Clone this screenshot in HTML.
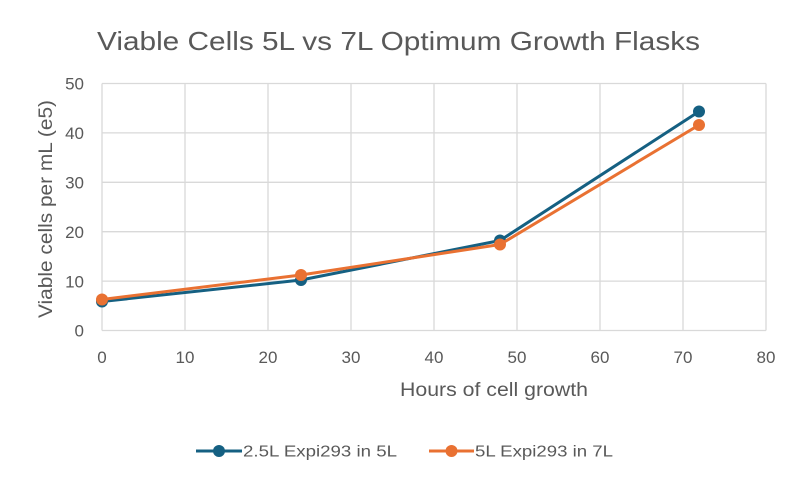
<!DOCTYPE html>
<html><head><meta charset="utf-8"><style>
html,body{margin:0;padding:0;background:#fff;}
svg{display:block;}
text{font-family:"Liberation Sans",sans-serif;fill:#595959;}
</style></head><body>
<svg width="800" height="480" viewBox="0 0 800 480" xmlns="http://www.w3.org/2000/svg">
<rect width="800" height="480" fill="#fff"/>
<text x="97" y="50" font-size="26" textLength="603" lengthAdjust="spacingAndGlyphs">Viable Cells 5L vs 7L Optimum Growth Flasks</text>
<g stroke="#d9d9d9" stroke-width="1.3" fill="none">
<line x1="102" y1="83.5" x2="766" y2="83.5"/>
<line x1="102" y1="132.9" x2="766" y2="132.9"/>
<line x1="102" y1="182.3" x2="766" y2="182.3"/>
<line x1="102" y1="231.7" x2="766" y2="231.7"/>
<line x1="102" y1="281.1" x2="766" y2="281.1"/>
<line x1="102" y1="330.5" x2="766" y2="330.5"/>
<line x1="102" y1="83.5" x2="102" y2="330.5"/>
<line x1="185" y1="83.5" x2="185" y2="330.5"/>
<line x1="268" y1="83.5" x2="268" y2="330.5"/>
<line x1="351" y1="83.5" x2="351" y2="330.5"/>
<line x1="434" y1="83.5" x2="434" y2="330.5"/>
<line x1="517" y1="83.5" x2="517" y2="330.5"/>
<line x1="600" y1="83.5" x2="600" y2="330.5"/>
<line x1="683" y1="83.5" x2="683" y2="330.5"/>
<line x1="766" y1="83.5" x2="766" y2="330.5"/>
</g>
<g font-size="17" text-anchor="end">
<text x="84" y="89.5">50</text>
<text x="84" y="139">40</text>
<text x="84" y="188.5">30</text>
<text x="84" y="238">20</text>
<text x="84" y="287.5">10</text>
<text x="84" y="336.5">0</text>
</g>
<g font-size="17" text-anchor="middle">
<text x="102" y="363">0</text>
<text x="185" y="363">10</text>
<text x="268" y="363">20</text>
<text x="351" y="363">30</text>
<text x="434" y="363">40</text>
<text x="517" y="363">50</text>
<text x="600" y="363">60</text>
<text x="683" y="363">70</text>
<text x="766" y="363">80</text>
</g>
<text x="400" y="396" font-size="19" textLength="188" lengthAdjust="spacingAndGlyphs">Hours of cell growth</text>
<text transform="translate(52,318) rotate(-90)" font-size="19" textLength="218" lengthAdjust="spacingAndGlyphs">Viable cells per mL (e5)</text>
<polyline points="102,301.5 301,280 500,240.5 699,111.5" fill="none" stroke="#156082" stroke-width="3" stroke-linejoin="round"/>
<g fill="#156082">
<circle cx="102" cy="301.5" r="6"/>
<circle cx="301" cy="280" r="6"/>
<circle cx="500" cy="240.5" r="6"/>
<circle cx="699" cy="111.5" r="6"/>
</g>
<polyline points="102,299.5 301,275 500,244.5 699,125" fill="none" stroke="#e97132" stroke-width="3" stroke-linejoin="round"/>
<g fill="#e97132">
<circle cx="102" cy="299.5" r="6"/>
<circle cx="301" cy="275" r="6"/>
<circle cx="500" cy="244.5" r="6"/>
<circle cx="699" cy="125" r="6"/>
</g>
<line x1="196" y1="451" x2="242" y2="451" stroke="#156082" stroke-width="3"/>
<circle cx="219" cy="451" r="6" fill="#156082"/>
<text x="243" y="456.5" font-size="15.5" textLength="154" lengthAdjust="spacingAndGlyphs">2.5L Expi293 in 5L</text>
<line x1="429" y1="451" x2="474" y2="451" stroke="#e97132" stroke-width="3"/>
<circle cx="451.5" cy="451" r="6" fill="#e97132"/>
<text x="475" y="456.5" font-size="15.5" textLength="138" lengthAdjust="spacingAndGlyphs">5L Expi293 in 7L</text>
</svg>
</body></html>
